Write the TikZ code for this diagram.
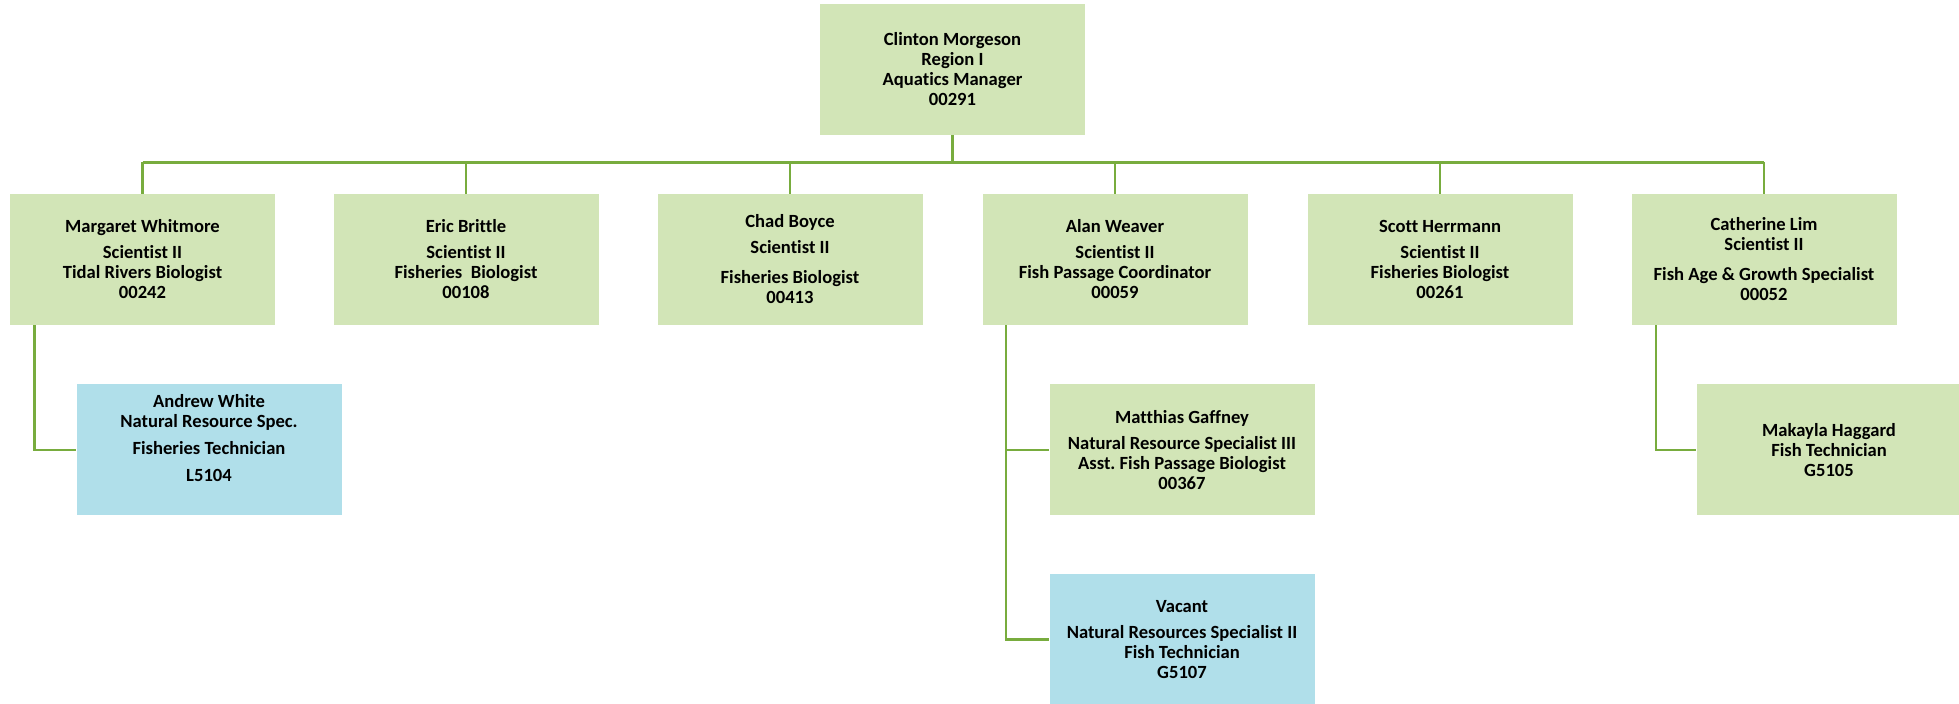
\documentclass[tikz,border=0pt]{standalone}
\usepackage{fontspec}
\setmainfont[Ligatures=NoCommon]{Carlito}
\frenchspacing
\definecolor{boxgreen}{RGB}{210,229,183}
\definecolor{boxblue}{RGB}{176,223,234}
\definecolor{linegreen}{RGB}{120,172,62}
\begin{document}
\begin{tikzpicture}[
x=0.5pt,y=-0.5pt,
every node/.style={font=\bfseries\fontsize{9.3}{10}\selectfont,align=center,inner sep=0pt},
staff/.style={fill=boxgreen,minimum width=132.5pt,minimum height=65.5pt},
tech/.style={staff,fill=boxblue},
conn/.style={draw=linegreen,line width=1.3pt}
]
\useasboundingbox (0,0) rectangle (1959,704);
% manager
\node[staff] (top) at (952.5,69.5) {Clinton Morgeson\\Region I\\Aquatics Manager\\00291};
% scientists
\node[staff] (margaret) at (142.5,259.5) {Margaret Whitmore\\[3pt]Scientist II\\Tidal Rivers Biologist\\00242};
\node[staff] (eric) at (466,259.5) {Eric Brittle\\[3pt]Scientist II\\Fisheries\ \ Biologist\\00108};
\node[staff] (chad) at (790,259.5) {Chad Boyce\\[3pt]Scientist II\\[5pt]Fisheries Biologist\\00413};
\node[staff] (alan) at (1115,259.5) {Alan Weaver\\[3pt]Scientist II\\Fish Passage Coordinator\\00059};
\node[staff] (scott) at (1440,259.5) {Scott Herrmann\\[3pt]Scientist II\\Fisheries Biologist\\00261};
\node[staff] (catherine) at (1764,259.5) {Catherine Lim\\Scientist II\\[5pt]Fish Age \& Growth Specialist\\00052};
% technicians
\node[tech] (andrew) at (209,450) {Andrew White\\Natural Resource Spec.\\[3.5pt]Fisheries Technician\\[3.5pt]L5104\\[2.5pt]};
\node[staff] (matthias) at (1182,450) {Matthias Gaffney\\[3pt]Natural Resource Specialist III\\Asst. Fish Passage Biologist\\00367};
\node[tech] (vacant) at (1182,639.5) {Vacant\\[3pt]Natural Resources Specialist II\\Fish Technician\\G5107};
\node[staff] (makayla) at (1829,450) {Makayla Haggard\\Fish Technician\\G5105};
% connectors
\coordinate (busL) at (margaret.north |- 0,162.5);
\coordinate (busR) at (catherine.north |- 0,162.5);
\draw[conn] (top.south) -- (top.south |- busL);
\draw[conn] (busL) -- (busR);
\foreach \n in {margaret,eric,chad,alan,scott,catherine}
  \draw[conn] (\n.north) -- (\n.north |- busL);
\draw[conn] ([xshift=12.5pt]margaret.south west) |- (andrew.west);
\draw[conn] ([xshift=12pt]alan.south west) |- (vacant.west);
\draw[conn] (matthias.west) -- ++(-21.5pt,0);
\draw[conn] ([xshift=12.5pt]catherine.south west) |- (makayla.west);
\end{tikzpicture}
\end{document}
